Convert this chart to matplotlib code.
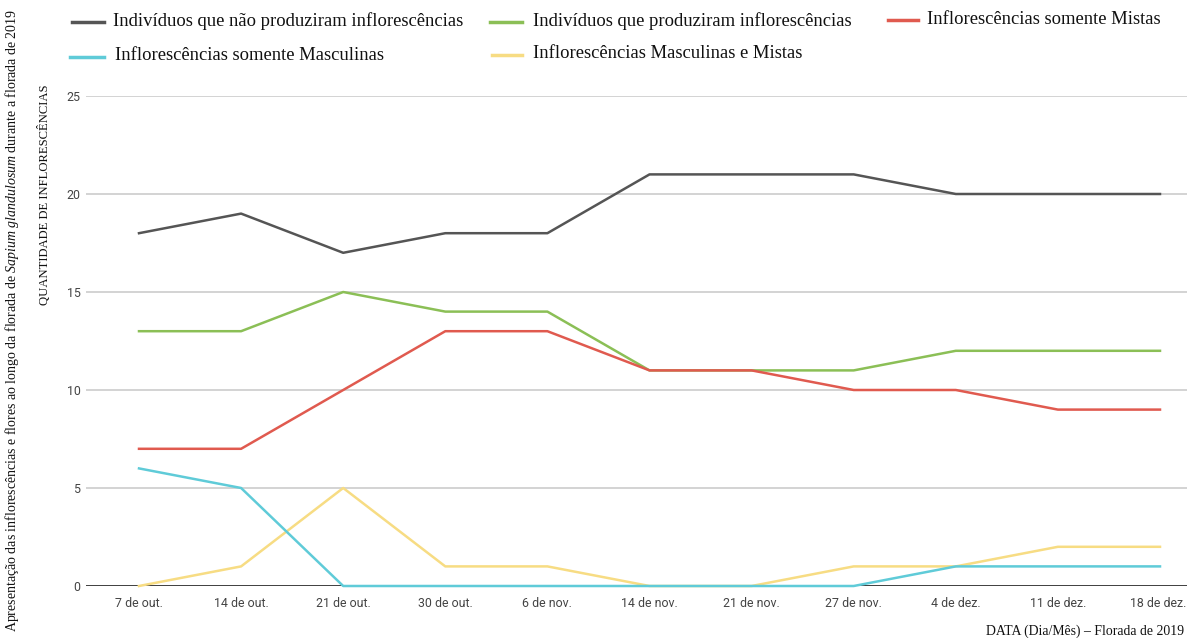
import matplotlib
matplotlib.use("Agg")
import matplotlib.pyplot as plt
from matplotlib.lines import Line2D

dates = ["7 de out.", "14 de out.", "21 de out.", "30 de out.", "6 de nov.", "14 de nov.",
         "21 de nov.", "27 de nov.", "4 de dez.", "11 de dez.", "18 de dez."]
nao_produziram = [18, 19, 17, 18, 18, 21, 21, 21, 20, 20, 20]
produziram = [13, 13, 15, 14, 14, 11, 11, 11, 12, 12, 12]
somente_mistas = [7, 7, 10, 13, 13, 11, 11, 10, 10, 9, 9]
somente_masculinas = [6, 5, 0, 0, 0, 0, 0, 0, 1, 1, 1]
masc_e_mistas = [0, 1, 5, 1, 1, 0, 0, 1, 1, 2, 2]
yticks = [0, 5, 10, 15, 20, 25]

labels = ["Indivíduos que não produziram inflorescências",
          "Indivíduos que produziram inflorescências",
          "Inflorescências somente Mistas",
          "Inflorescências somente Masculinas",
          "Inflorescências Masculinas e Mistas"]
colors = ["#555555", "#8bbf56", "#e05a4f", "#5fcbd8", "#f7dc83"]

plt.rcParams['mathtext.fontset'] = 'custom'
plt.rcParams['mathtext.rm'] = 'Liberation Serif'
plt.rcParams['mathtext.it'] = 'Liberation Serif:italic'

W, H = 1187, 638
fig = plt.figure(figsize=(W / 100, H / 100), dpi=100)
ax = fig.add_axes([86 / W, 1 - 586 / H, (W - 86) / W, (586 - 96) / H])

x = list(range(len(dates)))
series = [nao_produziram, produziram, somente_mistas, somente_masculinas, masc_e_mistas]
order = [0, 1, 2, 4, 3]
for i in order:
    ax.plot(x, series[i], color=colors[i], lw=1.8, zorder=3, clip_on=False,
            solid_joinstyle='round')

ax.set_ylim(0, 25)
ax.set_xlim((86 - 139) / 102.1, (W - 139) / 102.1)
ax.set_yticks(yticks)
ax.set_xticks(x)
ax.set_xticklabels(dates)
for s in ax.spines.values():
    s.set_visible(False)
ax.grid(axis='y', color='#cccccc', lw=1.2, zorder=0)
ax.axhline(0, color='#333333', lw=2, zorder=2)
ax.tick_params(axis='both', length=0, labelsize=8.9, labelcolor='#444444',
               labelfontfamily='Roboto')
ax.tick_params(axis='x', pad=8)
ax.tick_params(axis='y', pad=4)
xl = ax.get_xticklabels()
xl[-1].set_horizontalalignment('right')
xl[-1].set_x(10)
# shift last label slightly left so it stays inside the figure
import matplotlib.transforms as mtrans
xl[-1].set_transform(xl[-1].get_transform() + mtrans.ScaledTranslation(26 / 100, 0, fig.dpi_scale_trans))

# Legend (manual placement)
items = [
    (0, 72, 104, 113, 22),
    (1, 490, 522, 533, 22),
    (2, 888, 918, 927, 20),
    (3, 70, 104, 115, 57),
    (4, 492, 522, 533, 55),
]
for i, x0, x1, tx, yy in items:
    fig.add_artist(Line2D([x0 / W, x1 / W], [1 - yy / H, 1 - yy / H],
                          color=colors[i], lw=2.5, transform=fig.transFigure))
    fig.text(tx / W, 1 - (yy - 1) / H, labels[i], fontsize=13.4,
             family='Liberation Serif', va='center', ha='left', color='#111111')

fig.text(12 / W, 1 - 320 / H,
         r"Apresentação das inflorescências e flores ao longo da florada de $\mathit{Sapium\ glandulosum}$ durante a florada de 2019",
         rotation=90, fontsize=10.0, family='Liberation Serif', va='center', ha='center',
         color='#111111')
fig.text(45 / W, 1 - 195 / H, "QUANTIDADE DE INFLORESCÊNCIAS",
         rotation=90, fontsize=9.1, family='Liberation Serif', va='center', ha='center',
         color='#111111')
fig.text(1184 / W, 1 - 631 / H, "DATA (Dia/Mês) – Florada de 2019",
         fontsize=9.9, family='Liberation Serif', va='center', ha='right', color='#111111')

fig.savefig("out.png", dpi=100)
